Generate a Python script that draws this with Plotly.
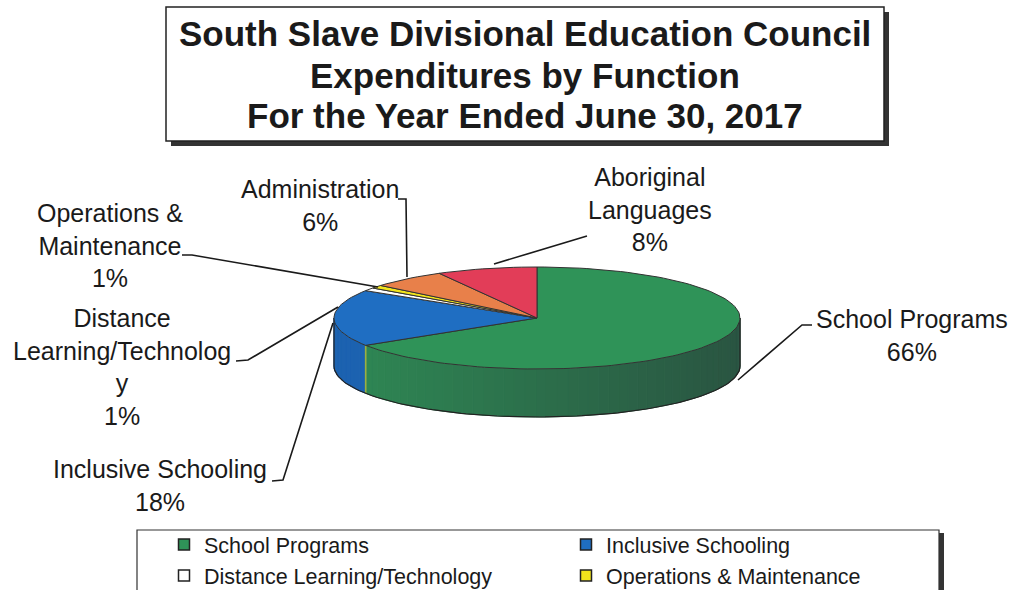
import numpy as np
import plotly.graph_objects as go

# ---------------- data ----------------
categories = ["School Programs", "Inclusive Schooling", "Distance Learning/Technology",
              "Operations & Maintenance", "Administration", "Aboriginal Languages"]
values = [66, 18, 1, 1, 6, 8]
label_names = ["School Programs", "Inclusive Schooling", "Distance<br>Learning/Technolog<br>y",
               "Operations &<br>Maintenance", "Administration", "Aboriginal<br>Languages"]
top_colors = ["#2f9358", "#1f6ec2", "#ffffff", "#f2e41c", "#e8804a", "#e23d58"]
side_colors_left = ["#2f8a55", "#1c62b0", "#f0f0f0", "#d8cc10", "#d07040", "#c83048"]
side_colors_right = ["#2a5542", "#1c62b0", "#f0f0f0", "#d8cc10", "#d07040", "#c83048"]
legend_shown = [True, True, True, True, False, False]
title_lines = ["South Slave Divisional Education Council",
               "Expenditures by Function",
               "For the Year Ended June 30, 2017"]

# ---------------- geometry (pixel-like axes) ----------------
W, H = 1014, 590
cx, cy, rx, ry, depth = 537, 318, 203, 51, 48
FONT = "Liberation Sans, Arial, sans-serif"


def rim(t, dy=0.0):
    return cx + rx * np.sin(t), cy - ry * np.cos(t) + dy


def hex2rgb(h):
    h = h.lstrip("#")
    return np.array([int(h[i:i + 2], 16) for i in (0, 2, 4)], dtype=float)


fig = go.Figure()

total = float(sum(values))
bounds = np.concatenate([[0], np.cumsum(values)]) / total * 2 * np.pi

# side walls (front half, angles between 90 and 270 degrees)
for i, (a0, a1) in enumerate(zip(bounds[:-1], bounds[1:])):
    s0, s1 = max(a0, np.pi / 2), min(a1, 3 * np.pi / 2)
    if s1 <= s0:
        continue
    nstrip = max(2, int((s1 - s0) / (np.pi / 60)))
    edges = np.linspace(s0, s1, nstrip + 1)
    cl, cr = hex2rgb(side_colors_left[i]), hex2rgb(side_colors_right[i])
    for b0, b1 in zip(edges[:-1], edges[1:]):
        tm = 0.5 * (b0 + b1)
        f = (np.sin(tm) + 1) / 2  # 0 at left, 1 at right
        c = cl * (1 - f) + cr * f
        col = "rgb(%d,%d,%d)" % tuple(c.astype(int))
        tt = np.linspace(b0, b1, 6)
        xt, yt = rim(tt)
        xb, yb = rim(tt[::-1], depth)
        fig.add_trace(go.Scatter(x=np.concatenate([xt, xb, xt[:1]]), y=np.concatenate([yt, yb, yt[:1]]),
                                 mode="lines", fill="toself", fillcolor=col,
                                 line=dict(color=col, width=1), hoverinfo="skip", showlegend=False))
    for s in (a0, a1):
        if np.pi / 2 < s < 3 * np.pi / 2:
            xs, ys = rim(np.array([s, s]), np.array([0, depth]))
            fig.add_trace(go.Scatter(x=xs, y=ys, mode="lines", line=dict(color="#9ab040", width=1.5),
                                     hoverinfo="skip", showlegend=False))

# side outline
tt = np.linspace(np.pi / 2, 3 * np.pi / 2, 120)
xb, yb = rim(tt, depth)
fig.add_trace(go.Scatter(x=xb, y=yb, mode="lines", line=dict(color="#222", width=1.2),
                         hoverinfo="skip", showlegend=False))
for s in (np.pi / 2, 3 * np.pi / 2):
    xs, ys = rim(np.array([s, s]), np.array([0, depth]))
    fig.add_trace(go.Scatter(x=xs, y=ys, mode="lines", line=dict(color="#222", width=1.2),
                             hoverinfo="skip", showlegend=False))

# top faces
for i, (a0, a1) in enumerate(zip(bounds[:-1], bounds[1:])):
    n = max(4, int((a1 - a0) / (np.pi / 90)))
    tt = np.linspace(a0, a1, n)
    xr, yr = rim(tt)
    xs = np.concatenate([[cx], xr, [cx]])
    ys = np.concatenate([[cy], yr, [cy]])
    fig.add_trace(go.Scatter(x=xs, y=ys, mode="lines", fill="toself", fillcolor=top_colors[i],
                             line=dict(color="#333", width=1), name=categories[i],
                             hovertemplate="%s: %d%%<extra></extra>" % (categories[i], values[i]),
                             showlegend=False))

# legend entries
for i, c in enumerate(categories):
    if not legend_shown[i]:
        continue
    fig.add_trace(go.Scatter(x=[None], y=[None], mode="markers", name=c,
                             marker=dict(symbol="square", size=11, color=top_colors[i],
                                         line=dict(color="#222", width=1.5))))

# ---------------- labels ----------------
label_pos = [(912, 335), (160, 485), (122, 367), (110, 245), (320, 205), (650, 209)]
for i, (lx, ly) in enumerate(label_pos):
    fig.add_annotation(x=lx, y=ly, xref="x", yref="y", showarrow=False,
                       text="%s<br>%d%%" % (label_names[i], values[i]),
                       font=dict(family=FONT, size=25, color="#1a1a1a"), align="center")

leaders = [
    [(812, 325), (802, 325), (738, 380)],
    [(272, 481), (283, 480), (333, 323)],
    [(236, 361), (248, 360), (338, 307)],
    [(182, 255), (192, 255), (378, 287)],
    [(398, 199), (406, 199), (407, 277)],
    [(587, 236), (494, 264)],
]
for pts in leaders:
    path = "M " + " L ".join("%g,%g" % p for p in pts)
    fig.add_shape(type="path", path=path, xref="x", yref="y", line=dict(color="#1a1a1a", width=1.6))

# ---------------- title box ----------------
fig.add_shape(type="rect", x0=171, y0=12, x1=889, y1=146, xref="x", yref="y",
              fillcolor="#333", line=dict(width=0), layer="below")
fig.add_shape(type="rect", x0=166, y0=7, x1=884, y1=141, xref="x", yref="y",
              fillcolor="white", line=dict(color="#222", width=1.5), layer="below")
for k, (t, yy) in enumerate(zip(title_lines, [33, 75, 115])):
    fig.add_annotation(x=525, y=yy, xref="x", yref="y", showarrow=False, text="<b>%s</b>" % t,
                       font=dict(family=FONT, size=35, color="#1a1a1a"))

# ---------------- legend box ----------------
fig.add_shape(type="rect", x0=141, y0=533, x1=944, y1=600, xref="x", yref="y",
              fillcolor="#333", line=dict(width=0), layer="below")
fig.add_shape(type="rect", x0=137, y0=530, x1=939, y1=600, xref="x", yref="y",
              fillcolor="white", line=dict(color="#333", width=1.2), layer="below")

fig.update_layout(
    width=W, height=H,
    margin=dict(l=0, r=0, t=0, b=0, autoexpand=False),
    paper_bgcolor="white", plot_bgcolor="white",
    xaxis=dict(range=[0, W], visible=False, fixedrange=True),
    yaxis=dict(range=[H, 0], visible=False, fixedrange=True),
    showlegend=True,
    legend=dict(orientation="h", x=164 / W, y=1 - 524 / H, xanchor="left", yanchor="top",
                entrywidth=357, entrywidthmode="pixels", bgcolor="rgba(0,0,0,0)",
                font=dict(family=FONT, size=21.5, color="#1a1a1a"), tracegroupgap=0,
                itemclick=False, itemdoubleclick=False),
)

fig.write_html("out.html")
